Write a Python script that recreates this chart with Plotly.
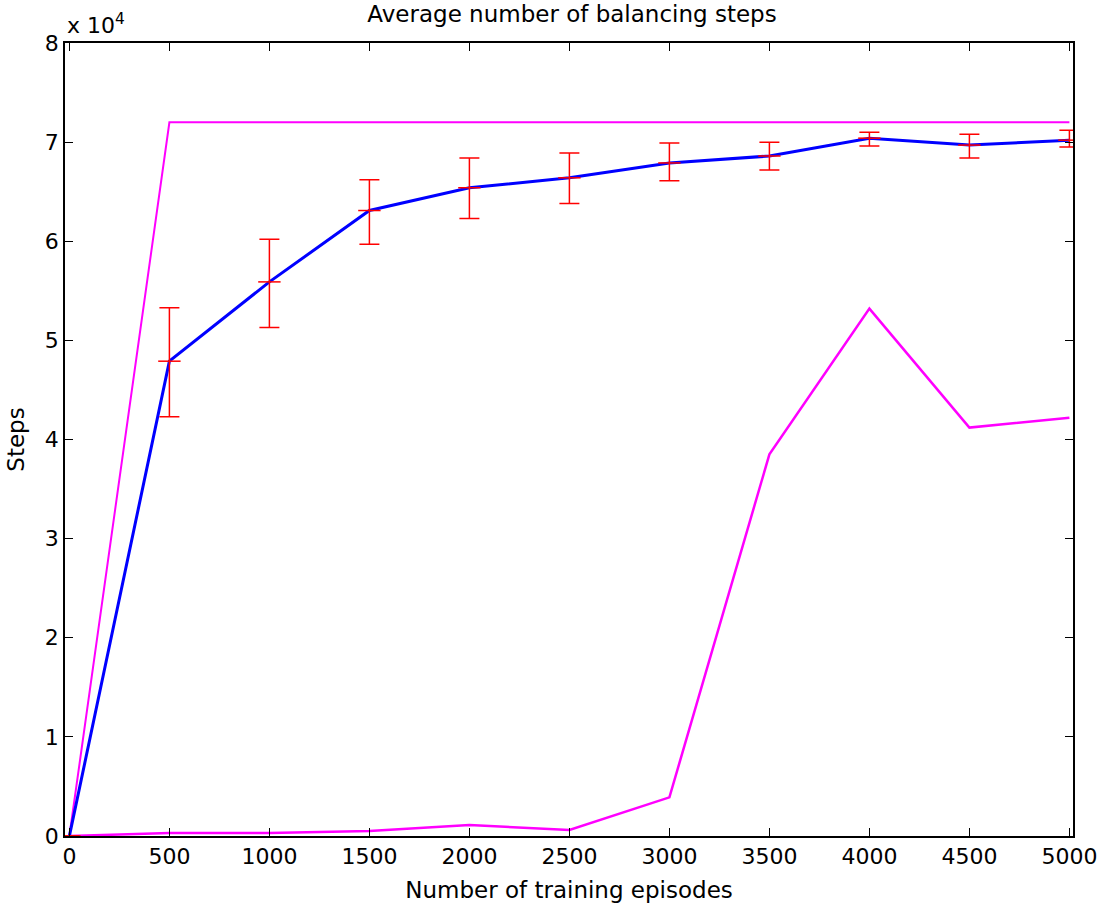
import plotly.graph_objects as go

episodes = [0, 500, 1000, 1500, 2000, 2500, 3000, 3500, 4000, 4500, 5000]
mean_steps = [0, 47900, 55900, 63100, 65400, 66400, 67900, 68600, 70400, 69700, 70200]
err_upper = [0, 53300, 60200, 66200, 68400, 68900, 69900, 70000, 71000, 70800, 71200]
err_lower = [0, 42300, 51300, 59700, 62300, 63800, 66100, 67200, 69600, 68400, 69500]
max_steps = [0, 72000, 72000, 72000, 72000, 72000, 72000, 72000, 72000, 72000, 72000]
min_steps = [0, 300, 300, 500, 1100, 600, 3900, 38500, 53200, 41200, 42200]

ytick_vals = [0, 10000, 20000, 30000, 40000, 50000, 60000, 70000, 80000]
ytick_text = ["0", "1", "2", "3", "4", "5", "6", "7", "8"]
xtick_vals = [0, 500, 1000, 1500, 2000, 2500, 3000, 3500, 4000, 4500, 5000]

err_plus = [u - m for u, m in zip(err_upper, mean_steps)]
err_minus = [m - l for m, l in zip(mean_steps, err_lower)]

font = "DejaVu Sans, Arial, sans-serif"
fsize = 22
lsize = 23

fig = go.Figure()
fig.add_trace(go.Scatter(x=episodes, y=max_steps, mode="lines",
                         line=dict(color="#FF00FF", width=2), showlegend=False))
fig.add_trace(go.Scatter(x=episodes, y=min_steps, mode="lines",
                         line=dict(color="#FF00FF", width=2.5), showlegend=False))
fig.add_trace(go.Scatter(x=episodes, y=mean_steps, mode="lines",
                         line=dict(color="#0000FF", width=3), showlegend=False))
fig.add_trace(go.Scatter(x=episodes, y=mean_steps, mode="markers",
                         marker=dict(symbol="line-ew", size=16, color="#FF0000",
                                     line=dict(color="#FF0000", width=1.5)),
                         error_y=dict(type="data", symmetric=False, array=err_plus,
                                      arrayminus=err_minus, color="#FF0000",
                                      thickness=1.5, width=10),
                         showlegend=False))

axis_common = dict(showline=True, linecolor="black", linewidth=1.5, mirror="ticks",
                   ticks="inside", ticklen=8, tickwidth=1.3, tickcolor="black",
                   showgrid=False, zeroline=False, automargin=False,
                   tickfont=dict(family=font, size=fsize, color="black"))

fig.update_layout(
    width=1100, height=903,
    margin=dict(l=65, r=27, t=43, b=67),
    paper_bgcolor="white", plot_bgcolor="white",
    title=dict(text="Average number of balancing steps", x=0.52, xanchor="center",
               y=0.985, yanchor="middle", font=dict(family=font, size=lsize, color="black")),
    xaxis=dict(range=[-22, 5018], tickvals=xtick_vals,
               title=dict(text="Number of training episodes", standoff=15,
                          font=dict(family=font, size=lsize, color="black")),
               **axis_common),
    yaxis=dict(range=[0, 80000], tickvals=ytick_vals, ticktext=ytick_text,
               title=dict(text="Steps", standoff=14,
                          font=dict(family=font, size=lsize, color="black")),
               **axis_common),
)
fig.add_annotation(text="x 10<sup>4</sup>", xref="paper", yref="paper", x=0.0, y=1.0,
                   xanchor="left", yanchor="bottom", showarrow=False, yshift=3,
                   font=dict(family=font, size=fsize, color="black"))

# remove the default 8px page margin so the 1100x903 figure fills the window exactly
fig.write_html("out.html", config={"displayModeBar": False},
               post_script="document.body.style.margin='0';document.body.style.overflow='hidden';")
